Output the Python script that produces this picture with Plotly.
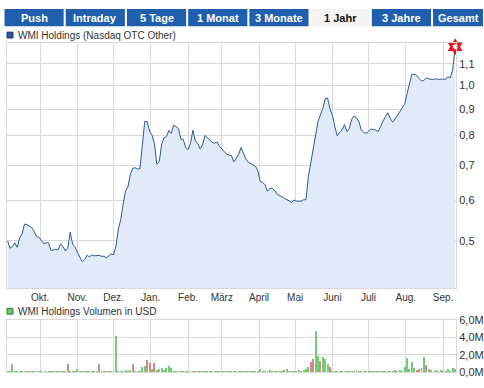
import math
import pandas as pd
import plotly.graph_objects as go

# ---------------- data ----------------
dates = pd.date_range("2012-09-04", periods=187, freq="2D")

price = [
    0.500, 0.484, 0.488, 0.496, 0.486, 0.507, 0.516, 0.539, 0.538, 0.535,
    0.531, 0.522, 0.510, 0.508, 0.501, 0.494, 0.496, 0.496, 0.479, 0.481,
    0.482, 0.481, 0.493, 0.488, 0.478, 0.484, 0.520, 0.493, 0.487, 0.475,
    0.464, 0.456, 0.460, 0.469, 0.466, 0.470, 0.468, 0.469, 0.469, 0.467,
    0.467, 0.464, 0.468, 0.472, 0.470, 0.488, 0.527, 0.550, 0.589, 0.625,
    0.636, 0.673, 0.691, 0.693, 0.689, 0.690, 0.768, 0.852, 0.851, 0.815,
    0.802, 0.772, 0.704, 0.711, 0.769, 0.792, 0.796, 0.818, 0.808, 0.838,
    0.832, 0.825, 0.787, 0.786, 0.758, 0.751, 0.772, 0.819, 0.780, 0.772,
    0.753, 0.767, 0.800, 0.791, 0.783, 0.776, 0.773, 0.777, 0.763, 0.753,
    0.743, 0.736, 0.733, 0.732, 0.711, 0.724, 0.735, 0.758, 0.736, 0.721,
    0.710, 0.706, 0.702, 0.698, 0.683, 0.651, 0.649, 0.642, 0.624, 0.632,
    0.632, 0.626, 0.616, 0.612, 0.610, 0.605, 0.602, 0.597, 0.594, 0.600,
    0.597, 0.597, 0.597, 0.601, 0.601, 0.666, 0.711, 0.751, 0.804, 0.852,
    0.877, 0.902, 0.943, 0.945, 0.900, 0.875, 0.832, 0.799, 0.811, 0.819,
    0.840, 0.814, 0.825, 0.860, 0.873, 0.865, 0.851, 0.820, 0.811, 0.808,
    0.814, 0.824, 0.821, 0.820, 0.813, 0.835, 0.852, 0.870, 0.885, 0.864,
    0.849, 0.861, 0.874, 0.887, 0.903, 0.919, 0.964, 1.014, 1.050, 1.051,
    1.046, 1.031, 1.020, 1.022, 1.034, 1.029, 1.028, 1.027, 1.030, 1.027,
    1.028, 1.029, 1.026, 1.040, 1.034, 1.074, 1.188,
]

volume_mio = [
    0.05, 0.10, 0.93, 0.05, 0.15, 0.08, 0.15, 0.10, 0.05, 0.08,
    0.05, 0.10, 0.04, 0.10, 0.05, 0.03, 0.06, 0.08, 0.10, 0.10,
    0.08, 0.10, 0.12, 0.08, 0.20, 0.90, 0.15, 0.20, 0.15, 0.35,
    0.20, 0.15, 0.08, 0.10, 0.05, 0.06, 0.15, 0.08, 0.90, 0.20,
    0.05, 0.08, 0.10, 0.06, 0.15, 4.20, 0.15, 0.20, 0.18, 0.25,
    0.20, 0.30, 0.95, 0.15, 0.20, 0.20, 0.60, 0.70, 1.45, 1.10,
    0.40, 1.10, 0.30, 0.35, 0.55, 0.30, 0.45, 0.75, 0.45, 0.20,
    0.10, 0.10, 0.06, 0.10, 0.05, 0.08, 0.10, 0.06, 0.10, 0.08,
    0.12, 0.10, 0.08, 0.14, 0.10, 0.12, 0.06, 0.10, 0.08, 0.12,
    0.10, 0.06, 0.10, 0.12, 0.08, 0.15, 0.06, 0.10, 0.12, 0.08,
    0.15, 0.10, 0.06, 0.10, 0.08, 0.40, 0.10, 0.20, 0.15, 0.25,
    0.10, 0.20, 0.12, 0.15, 0.10, 0.30, 0.35, 0.20, 0.10, 0.20,
    0.15, 0.25, 0.20, 0.30, 0.35, 0.60, 1.20, 1.50, 4.70, 1.90,
    1.30, 1.80, 1.50, 1.00, 0.60, 0.20, 0.12, 0.08, 0.10, 0.05,
    0.08, 0.15, 0.10, 0.20, 0.06, 0.25, 0.10, 0.08, 0.15, 0.10,
    0.20, 0.12, 0.08, 0.15, 0.10, 0.20, 0.12, 0.15, 0.10, 0.20,
    0.12, 0.25, 0.15, 0.30, 0.20, 0.60, 1.60, 0.40, 1.20, 0.50,
    0.30, 0.35, 0.50, 1.80, 0.80, 0.40, 0.30, 0.20, 0.25, 0.15,
    0.30, 0.20, 0.15, 0.40, 0.20, 0.45, 0.35,
]

# indices of sessions whose volume bar is drawn red (falling price)
vol_down = [9, 18, 21, 25, 33, 38, 42, 52, 58, 59, 61, 62, 74, 78, 80, 84,
            88, 90, 94, 99, 104, 108, 112, 115, 118, 126, 127, 130, 134, 137,
            141, 147, 150, 154, 160, 170, 171, 172, 174, 176]

month_ticks = ["2012-10-01", "2012-11-01", "2012-12-01", "2013-01-01",
               "2013-02-01", "2013-03-01", "2013-04-01", "2013-05-01",
               "2013-06-01", "2013-07-01", "2013-08-01", "2013-09-01"]
month_labels = ["Okt.", "Nov.", "Dez.", "Jan.", "Feb.", "März", "April",
                "Mai", "Juni", "Juli", "Aug.", "Sep."]

price_ticks = [0.5, 0.6, 0.7, 0.8, 0.9, 1.0, 1.1]
price_labels = ["0,5", "0,6", "0,7", "0,8", "0,9", "1,0", "1,1"]
vol_ticks = [0, 2e6, 4e6, 6e6]
vol_labels = ["0,0M", "2,0M", "4,0M", "6,0M"]

tabs = ["Push", "Intraday", "5 Tage", "1 Monat", "3 Monate", "1 Jahr",
        "3 Jahre", "Gesamt"]
active_tab = "1 Jahr"

series_name = "WMI Holdings (Nasdaq OTC Other)"
volume_name = "WMI Holdings Volumen in USD"

# ---------------- figure ----------------
W, H = 484, 388
FONT = "Liberation Sans, Arial, sans-serif"


def px(x):
    return x / W


def py(y):
    return 1 - y / H


fig = go.Figure()

fig.add_trace(go.Scatter(
    x=dates, y=price, mode="lines",
    line=dict(color="#2d5a94", width=1),
    fill="tozeroy", fillcolor="#e0eaf9",
    xaxis="x", yaxis="y", hoverinfo="skip"))

fig.add_trace(go.Scatter(
    x=[dates[-1]], y=[price[-1]], mode="markers",
    marker=dict(symbol="hexagram", size=13, color="#e8161b",
                line=dict(width=0)),
    xaxis="x", yaxis="y", hoverinfo="skip", cliponaxis=False))
fig.add_trace(go.Scatter(
    x=[dates[-1]], y=[price[-1]], mode="markers",
    marker=dict(symbol="hexagram", size=5, color="white",
                line=dict(width=0)),
    xaxis="x", yaxis="y", hoverinfo="skip", cliponaxis=False))

bar_colors = ["#d48a8a" if i in vol_down else "#74cc74"
              for i in range(len(volume_mio))]
fig.add_trace(go.Bar(
    x=dates, y=[v * 1e6 for v in volume_mio],
    marker=dict(color=bar_colors, line=dict(width=0)),
    width=0.8 * 86400000,
    xaxis="x2", yaxis="y2", hoverinfo="skip"))

grid = "#dadada"
xrange = ["2012-09-03 11:00", "2013-09-11 18:00"]

fig.update_layout(
    width=W, height=H,
    margin=dict(l=0, r=0, t=0, b=0),
    paper_bgcolor="white", plot_bgcolor="white",
    showlegend=False,
    font=dict(family=FONT, size=10, color="#333333"),
    bargap=0,
    xaxis=dict(
        domain=[px(7), px(457)], range=xrange, type="date",
        tickvals=month_ticks, ticktext=month_labels,
        showgrid=True, gridcolor=grid, gridwidth=1,
        showline=True, mirror=True, linecolor=grid, linewidth=1,
        ticks="", zeroline=False, anchor="y",
        tickfont=dict(size=10, color="#333333"),
    ),
    yaxis=dict(
        domain=[py(291), py(38)], type="log",
        range=[math.log10(0.4055), math.log10(1.2088)],
        tickvals=price_ticks, ticktext=price_labels,
        side="right", showgrid=True, gridcolor=grid, gridwidth=1,
        showline=True, mirror=True, linecolor=grid, linewidth=1,
        ticks="", zeroline=False, anchor="x",
        tickfont=dict(size=11, color="#333333"),
    ),
    xaxis2=dict(
        domain=[px(7), px(457)], range=xrange, type="date",
        tickvals=month_ticks, showticklabels=False,
        showgrid=True, gridcolor=grid, gridwidth=1,
        showline=True, mirror=True, linecolor=grid, linewidth=1,
        ticks="", zeroline=False, anchor="y2",
    ),
    yaxis2=dict(
        domain=[py(378), py(324)], range=[0, 6e6],
        tickvals=vol_ticks, ticktext=vol_labels,
        side="right", showgrid=True, gridcolor=grid, gridwidth=1,
        showline=True, mirror=True, linecolor=grid, linewidth=1,
        ticks="", zeroline=False, anchor="x2",
        tickfont=dict(size=11, color="#333333"),
    ),
)

shapes = []
annotations = []

# tab bar
pitch = 61.35
for i, name in enumerate(tabs):
    x0 = 4.5 + pitch * i
    x1 = min(x0 + 59.3, W)
    active = name == active_tab
    shapes.append(dict(
        type="rect", xref="paper", yref="paper",
        x0=px(x0), x1=px(x1), y0=py(21), y1=py(3),
        fillcolor="#f4f4f4" if active else "#1f5fad",
        line=dict(width=0), layer="above"))
    annotations.append(dict(
        text="<b>%s</b>" % name, xref="paper", yref="paper",
        x=px((x0 + x1) / 2), y=py(12), xanchor="center", yanchor="middle",
        showarrow=False,
        font=dict(family=FONT, size=11,
                  color="#111111" if active else "white")))

# legend items
shapes.append(dict(type="rect", xref="paper", yref="paper",
                   x0=px(7), x1=px(13), y0=py(33), y1=py(27),
                   fillcolor="#2b58a6", line=dict(color="#1b3670", width=1)))
annotations.append(dict(text=series_name, xref="paper", yref="paper",
                        x=px(16), y=py(30.5), xanchor="left", yanchor="middle",
                        showarrow=False,
                        font=dict(family=FONT, size=10, color="#333333")))
shapes.append(dict(type="rect", xref="paper", yref="paper",
                   x0=px(7), x1=px(13), y0=py(318), y1=py(312),
                   fillcolor="#6cc96c", line=dict(color="#2f7a2f", width=1)))
annotations.append(dict(text=volume_name, xref="paper", yref="paper",
                        x=px(16), y=py(315), xanchor="left", yanchor="middle",
                        showarrow=False,
                        font=dict(family=FONT, size=10, color="#333333")))

fig.update_layout(shapes=shapes, annotations=annotations)

fig.write_html(
    "out.html",
    config={"displayModeBar": False},
    post_script="document.body.style.margin='0';"
                "document.body.style.padding='0';"
                "document.documentElement.style.overflow='hidden';",
)
